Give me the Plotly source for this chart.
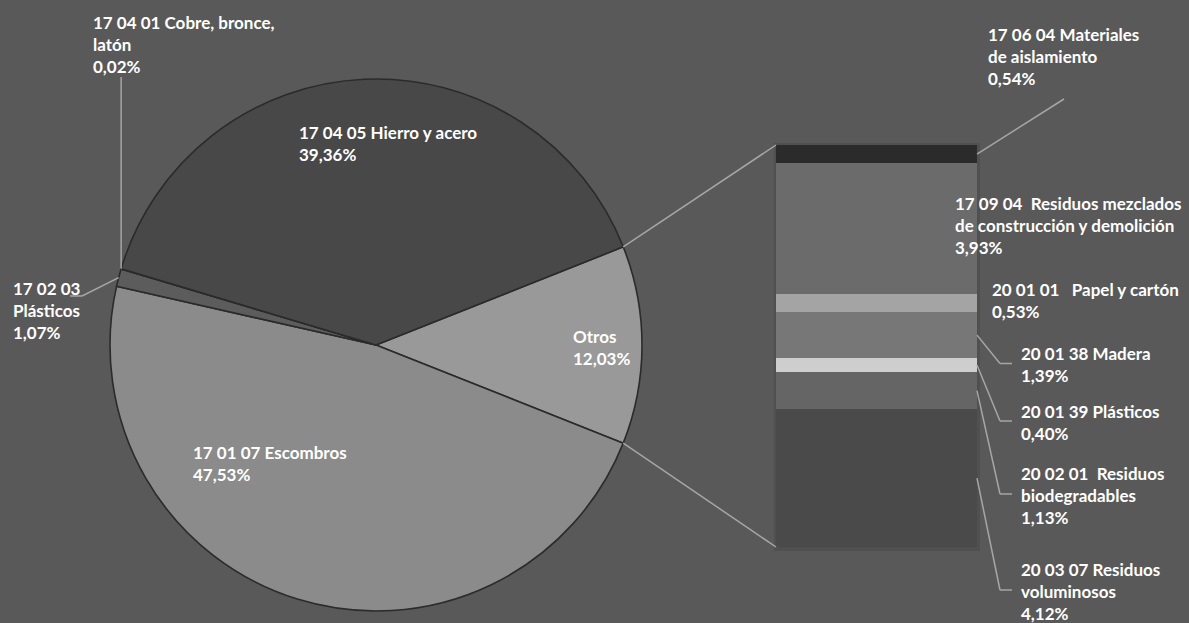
import math
import plotly.graph_objects as go

W, H = 1189, 623
BG = "#595959"
FONT = "Lato"

# ---------------- data ----------------
pie_labels = ["Otros", "17 01 07 Escombros", "17 02 03<br>Plásticos",
              "17 04 01 Cobre, bronce,<br>latón", "17 04 05 Hierro y acero"]
pie_values = [12.03, 47.53, 1.07, 0.02, 39.36]
pie_colors = ["#999999", "#8b8b8b", "#5c5c5c", "#3c3c3c", "#484848"]

# breakdown of "Otros", top to bottom
bar_labels = ["17 06 04 Materiales<br>de aislamiento",
              "17 09 04\u00a0 Residuos mezclados<br>de construcción y demolición",
              "20 01 01 \u00a0 Papel y cartón",
              "20 01 38 Madera",
              "20 01 39 Plásticos",
              "20 02 01\u00a0 Residuos<br>biodegradables",
              "20 03 07 Residuos<br>voluminosos"]
bar_values = [0.54, 3.93, 0.53, 1.39, 0.40, 1.13, 4.12]
bar_colors = ["#2b2b2b", "#6b6b6b", "#a4a4a4", "#777777", "#cecece", "#656565", "#4a4a4a"]

# ---------------- layout constants (pixels) ----------------
PIE_CX, PIE_CY, PIE_R = 376, 345, 266
BAR_L, BAR_R, BAR_T, BAR_B = 776, 977, 145, 547

pie_label_pos = [(573, 347), (193, 463), (13, 311), (93, 44), (299, 143.5)]
bar_label_pos = [(988, 57), (955, 226), (992, 300), (1021, 364.5),
                 (1021, 422), (1021, 495), (1021, 591)]
LINE_COL = "#a6a6a6"


def px(x):
    return x / W


def py(y):
    return 1 - y / H


def fmt(v):
    return f"{v:.2f}".replace(".", ",") + "%"


fig = go.Figure()

# ---------------- pie ----------------
total_pie = sum(pie_values)
rotation = 90 - pie_values[0] / total_pie * 360 / 2
fig.add_trace(go.Pie(
    labels=[l.replace("<br>", " ") for l in pie_labels],
    values=pie_values,
    sort=False,
    direction="clockwise",
    rotation=rotation,
    marker=dict(colors=pie_colors, line=dict(color="#2b2b2b", width=1.6)),
    textinfo="none",
    hoverinfo="label+percent",
    showlegend=False,
    domain=dict(x=[px(PIE_CX - PIE_R), px(PIE_CX + PIE_R)],
                y=[py(PIE_CY + PIE_R), py(PIE_CY - PIE_R)]),
))

# ---------------- stacked bar ----------------
for lab, val, col in reversed(list(zip(bar_labels, bar_values, bar_colors))):
    fig.add_trace(go.Bar(
        x=[0], y=[val], width=[1],
        marker=dict(color=col, line=dict(width=0)),
        name=lab.replace("<br>", " "),
        hoverinfo="name+y",
        showlegend=False,
        xaxis="x2", yaxis="y2",
    ))

bar_total = sum(bar_values)


def bar_y_px(v):
    return BAR_B - v / bar_total * (BAR_B - BAR_T)


# ---------------- helper geometry ----------------
def pie_point(deg):
    """math angle (deg, ccw from east) -> pixel point on rim"""
    a = math.radians(deg)
    return PIE_CX + PIE_R * math.cos(a), PIE_CY - PIE_R * math.sin(a)


# slice boundaries in math angles (clockwise from Otros top edge)
start_math = 90 - rotation
bounds = []
ang = start_math
for v in pie_values:
    a0 = ang
    ang -= v / total_pie * 360
    bounds.append((a0, ang))

shapes = []

# soft shadow behind the bar
shapes.append(dict(type="rect", xref="paper", yref="paper", layer="below",
                   x0=px(BAR_L - 2), x1=px(BAR_R + 3), y0=py(BAR_B + 4), y1=py(BAR_T - 2),
                   fillcolor="#505050", line=dict(width=0)))


def line(pts):
    for (x0, y0), (x1, y1) in zip(pts[:-1], pts[1:]):
        shapes.append(dict(type="line", xref="paper", yref="paper",
                           x0=px(x0), y0=py(y0), x1=px(x1), y1=py(y1),
                           line=dict(color=LINE_COL, width=1.5)))


# connectors from "Otros" slice to the bar
p_top = pie_point(bounds[0][0])
p_bot = pie_point(bounds[0][1])
line([p_top, (BAR_L, bar_y_px(bar_total))])
line([p_bot, (BAR_L, bar_y_px(0))])

# pie leader lines
cobre_mid = sum(bounds[3]) / 2
cx, cy = pie_point(cobre_mid)
line([(cx, 77), (cx, cy)])
plast_mid = sum(bounds[2]) / 2
pxp, pyp = pie_point(plast_mid)
line([(pxp, pyp), (82, 296), (70, 296)])

# bar leader lines
cum = bar_total
mids = []
for v in bar_values:
    mids.append(bar_y_px(cum - v / 2))
    cum -= v
line([(BAR_R, mids[0]), (1064, 99)])
for i in [3, 4, 5, 6]:
    ly = bar_label_pos[i][1] - 1
    line([(BAR_R, mids[i]), (1000, ly), (1012, ly)])

# ---------------- annotations ----------------
annotations = []


def add_label(text, x, y):
    annotations.append(dict(
        text=text, x=px(x - 2), y=py(y), xref="paper", yref="paper",
        xanchor="left", yanchor="middle", align="left", showarrow=False,
        font=dict(family=FONT, size=17, color="#ffffff", weight="bold"),
    ))


for lab, val, (x, y) in zip(pie_labels, pie_values, pie_label_pos):
    add_label(f"{lab}<br>{fmt(val)}", x, y)
for lab, val, (x, y) in zip(bar_labels, bar_values, bar_label_pos):
    add_label(f"{lab}<br>{fmt(val)}", x, y)

fig.update_layout(
    width=W, height=H,
    margin=dict(l=0, r=0, t=0, b=0),
    paper_bgcolor=BG, plot_bgcolor=BG,
    barmode="stack", bargap=0,
    xaxis=dict(visible=False),
    yaxis=dict(visible=False),
    xaxis2=dict(domain=[px(BAR_L), px(BAR_R)], range=[-0.5, 0.5],
                visible=False, anchor="y2", fixedrange=True),
    yaxis2=dict(domain=[py(BAR_B), py(BAR_T)], range=[0, bar_total],
                visible=False, anchor="x2", fixedrange=True),
    shapes=shapes,
    annotations=annotations,
    showlegend=False,
)

fig.write_html("out.html")
